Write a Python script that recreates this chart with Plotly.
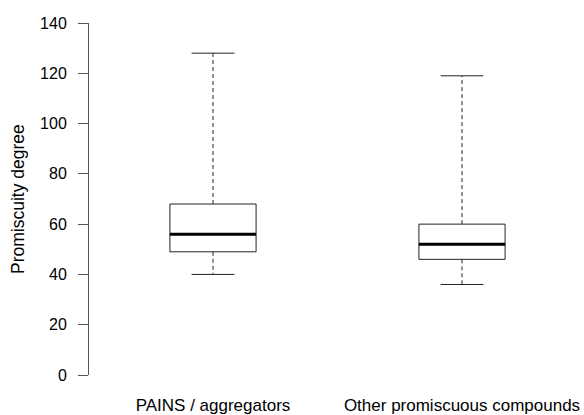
import plotly.graph_objects as go

categories = ["PAINS / aggregators", "Other promiscuous compounds"]
lower_whisker = [40, 36]
q1 = [49, 46]
median = [56, 52]
q3 = [68, 60]
upper_whisker = [128, 119]
y_ticks = [0, 20, 40, 60, 80, 100, 120, 140]

positions = [1, 2]
box_half = 0.173
cap_half = 0.086
line_col = "#222222"
axis_col = "#555555"

fig = go.Figure()
for i, p in enumerate(positions):
    # dashed whiskers
    fig.add_trace(go.Scatter(x=[p, p, None, p, p],
                             y=[q3[i], upper_whisker[i], None, q1[i], lower_whisker[i]],
                             mode="lines", line=dict(color=line_col, width=1, dash="4px,3px"),
                             hoverinfo="skip", showlegend=False))
    # caps
    fig.add_trace(go.Scatter(x=[p - cap_half, p + cap_half, None, p - cap_half, p + cap_half],
                             y=[upper_whisker[i], upper_whisker[i], None, lower_whisker[i], lower_whisker[i]],
                             mode="lines", line=dict(color=line_col, width=1),
                             hoverinfo="skip", showlegend=False))
    # box
    fig.add_trace(go.Scatter(x=[p - box_half, p + box_half, p + box_half, p - box_half, p - box_half],
                             y=[q1[i], q1[i], q3[i], q3[i], q1[i]],
                             mode="lines", line=dict(color=line_col, width=1),
                             fill="toself", fillcolor="white",
                             hoverinfo="skip", showlegend=False))
    # median
    fig.add_trace(go.Scatter(x=[p - box_half, p + box_half], y=[median[i], median[i]],
                             mode="lines", line=dict(color="black", width=3),
                             hoverinfo="skip", showlegend=False))

fig.update_layout(
    width=584, height=415,
    margin=dict(l=89, r=0, t=23, b=40, autoexpand=False),
    plot_bgcolor="white", paper_bgcolor="white",
    font=dict(family="Liberation Sans, Arial, sans-serif", color="black", size=16),
    xaxis=dict(range=[1 - 124 / 249, 2 + 122 / 249], tickvals=positions, ticktext=categories,
               showline=False, showgrid=False, zeroline=False, ticks="",
               tickfont=dict(size=17), ticklabelstandoff=18, automargin=False),
    yaxis=dict(range=[0, 140], tickvals=y_ticks, showline=True, linecolor=axis_col, linewidth=1,
               ticks="outside", ticklen=10, tickcolor=axis_col, tickwidth=1,
               showgrid=False, zeroline=False, tickfont=dict(size=16),
               ticklabelstandoff=8, automargin=False),
    annotations=[dict(text="Promiscuity degree", xref="paper", yref="paper", x=0, y=0.5,
                      xanchor="center", yanchor="middle", xshift=-71, textangle=-90,
                      showarrow=False, font=dict(size=17.5))],
)

fig.write_html("out.html", config={"displayModeBar": False},
               post_script="document.body.style.margin='0';document.body.style.overflow='hidden';")
